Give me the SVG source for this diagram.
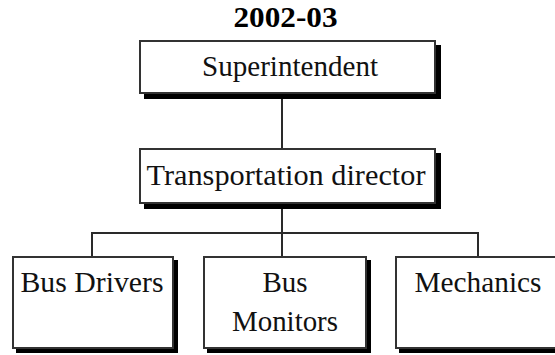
<svg xmlns="http://www.w3.org/2000/svg" width="555" height="355" viewBox="0 0 555 355">
  <style>
    .shadow { fill: #000; stroke: #000; stroke-width: 2; }
    .box { fill: #fff; stroke: #333; stroke-width: 2; }
    .label { font-family: "Liberation Serif", "Times New Roman", serif; font-size: 29px; fill: #111; text-anchor: middle; }
    .title { font-family: "Liberation Serif", "Times New Roman", serif; font-size: 29px; font-weight: bold; fill: #000; text-anchor: middle; }
    .conn { fill: none; stroke: #2a2a2a; stroke-width: 2; }
  </style>

  <rect width="555" height="355" fill="#fff"/>

  <text class="title" x="285.5" y="27" textLength="104" lengthAdjust="spacingAndGlyphs">2002-03</text>

  <!-- org-chart connectors -->
  <g id="connectors">
    <path class="conn" d="M282 94 V149"/>
    <path class="conn" d="M282 204 V257"/>
    <path class="conn" d="M92 257 V233 H478 V257"/>
  </g>

  <g id="superintendent">
    <rect class="shadow" x="145" y="46" width="295" height="52"/>
    <rect class="box" x="140" y="41" width="295" height="52"/>
    <text class="label" x="290" y="76" textLength="176" lengthAdjust="spacingAndGlyphs">Superintendent</text>
  </g>

  <g id="transportation-director">
    <rect class="shadow" x="145" y="154" width="295" height="54"/>
    <rect class="box" x="140" y="149" width="295" height="54"/>
    <text class="label" x="286" y="185" textLength="279" lengthAdjust="spacingAndGlyphs">Transportation director</text>
  </g>

  <g id="bus-drivers">
    <rect class="shadow" x="17" y="261" width="160" height="91"/>
    <rect class="box" x="13" y="257" width="160" height="91"/>
    <text class="label" x="92" y="292" textLength="143" lengthAdjust="spacingAndGlyphs">Bus Drivers</text>
  </g>

  <g id="bus-monitors">
    <rect class="shadow" x="208" y="261" width="162" height="91"/>
    <rect class="box" x="204" y="257" width="162" height="91"/>
    <text class="label" x="285" y="292">Bus</text>
    <text class="label" x="285" y="331" textLength="106" lengthAdjust="spacingAndGlyphs">Monitors</text>
  </g>

  <g id="mechanics">
    <rect class="shadow" x="400" y="261" width="166" height="91"/>
    <rect class="box" x="396" y="257" width="166" height="91"/>
    <text class="label" x="478" y="292" textLength="127" lengthAdjust="spacingAndGlyphs">Mechanics</text>
  </g>
</svg>
